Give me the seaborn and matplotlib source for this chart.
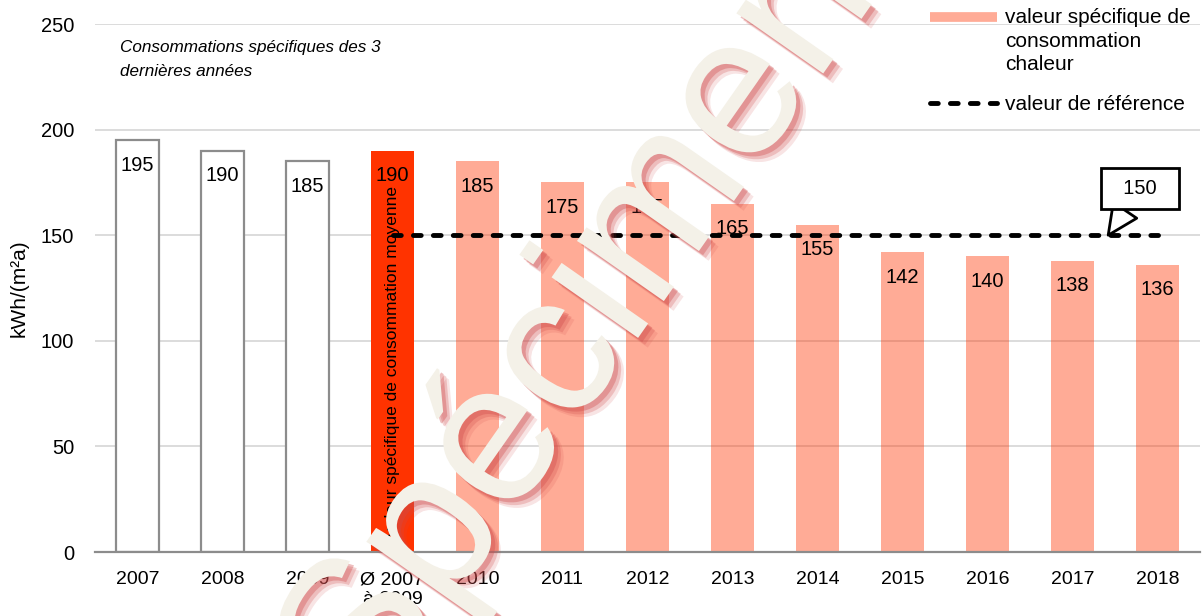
import pandas as pd
import matplotlib
matplotlib.use("Agg")
import matplotlib.pyplot as plt
import seaborn as sns
from matplotlib.lines import Line2D
from matplotlib import patheffects as pe

# data
categories = ["2007", "2008", "2009", "Ø 2007\nà 2009", "2010", "2011", "2012",
              "2013", "2014", "2015", "2016", "2017", "2018"]
values = [195, 190, 185, 190, 185, 175, 175, 165, 155, 142, 140, 138, 136]
groups = ["hist", "hist", "hist", "avg"] + ["annual"] * 9
ref_categories = categories[3:]
ref_values = [150] * len(ref_categories)
ref_callout = 150

df = pd.DataFrame({"cat": categories, "value": values, "group": groups})

sns.set_theme(style="white")
plt.rcParams["font.family"] = ["Liberation Sans", "DejaVu Sans"]
for k in ["text.color", "axes.labelcolor", "xtick.color", "ytick.color"]:
    plt.rcParams[k] = "black"

RED = "#FF3300"
GRID = "#d9d9d9"
AXC = "#8c8c8c"

fig = plt.figure(figsize=(12.04, 6.16), dpi=100)
ax = fig.add_axes([95 / 1204, 1 - 552 / 616, 1105 / 1204, 528 / 616])

sns.barplot(data=df, x="cat", y="value", hue="group", order=categories,
            palette={"hist": "white", "avg": RED, "annual": RED},
            dodge=False, width=0.5, saturation=1, legend=False, ax=ax, zorder=2)

for cont, grp in zip(ax.containers, ["hist", "avg", "annual"]):
    for bar in cont:
        if grp == "hist":
            bar.set_edgecolor(AXC)
            bar.set_linewidth(1.6)
        elif grp == "annual":
            bar.set_alpha(0.41)
            bar.set_linewidth(0)
        else:
            bar.set_linewidth(0)

# value labels just inside the top of each bar
for i, v in enumerate(values):
    ax.annotate(str(v), xy=(i, v), xytext=(0, -18), textcoords="offset points",
                ha="center", va="center", fontsize=14.5, zorder=5)

# reference line
ref_x = [categories.index(c) for c in ref_categories]
sns.lineplot(x=ref_x, y=ref_values, ax=ax, color="black", lw=3.5,
             linestyle=(0, (1.6, 2.5)), dash_capstyle="round", zorder=4)

# vertical text inside the average bar
ax.text(3, 90.5, "valeur spécifique de consommation moyenne", rotation=90,
        ha="center", va="center", fontsize=12.5, zorder=5)

ax.text(25 / 1105, (552 - 40) / 528, "Consommations spécifiques des 3\ndernières années",
        transform=ax.transAxes, ha="left", va="top", fontsize=12.3, style="italic",
        linespacing=1.75)

# callout for the reference value
ax.annotate(f"  {ref_callout}  ", xy=(11.42, ref_callout), xytext=(11.79, 172),
            ha="center", va="center", fontsize=14.5, zorder=6,
            bbox=dict(boxstyle="square,pad=0.55", fc="white", ec="black", lw=2),
            arrowprops=dict(arrowstyle="wedge,tail_width=1.4,shrink_factor=0.5",
                            fc="white", ec="black", lw=2, shrinkA=0, shrinkB=0))

# axes styling
ax.set_xlim(-0.5, 12.5)
ax.set_ylim(0, 250)
ax.set_yticks([0, 50, 100, 150, 200, 250])
ax.yaxis.grid(True, color=GRID, lw=1.3, zorder=0)
ax.set_axisbelow(True)
for s in ["top", "right", "left"]:
    ax.spines[s].set_visible(False)
ax.spines["bottom"].set_color(AXC)
ax.spines["bottom"].set_linewidth(1.6)
ax.spines["bottom"].set_zorder(3)

ax.set_xticks(range(len(categories)), labels=categories)
ax.set_xticks([i - 0.5 for i in range(len(categories) + 1)], minor=True)
ax.tick_params(axis="x", which="major", length=0, pad=14, labelsize=14)
ax.tick_params(axis="x", which="minor", length=6, width=1.6, color=AXC, direction="out")
ax.tick_params(axis="y", length=0, pad=15, labelsize=14.5)
ax.set_xlabel("")
ax.set_ylabel("kWh/(m²a)", fontsize=15)
ax.yaxis.set_label_coords(-66 / 1105, 0.5)

# legend (thin bar handle drawn as a thick line, lifted to the first text line)
handles = [Line2D([], [], color=RED, alpha=0.41, lw=7, solid_capstyle="butt"),
           Line2D([], [], color="black", lw=3.5, linestyle=(0, (1.6, 2.5)),
                  dash_capstyle="round")]
labels = ["valeur spécifique de\nconsommation\nchaleur", "valeur de référence"]
leg = fig.legend(handles, labels, loc="upper left", bbox_to_anchor=(928 / 1204, 1 - 6 / 616),
                 frameon=False, fontsize=15, handlelength=3.2, handletextpad=0.4,
                 labelspacing=1.0, borderpad=0.1, borderaxespad=0)
for t in leg.get_texts():
    t.set_linespacing(1.3)
bar_handle = leg.legend_handles[0]
bar_handle.set_ydata([y + 17.5 for y in bar_handle.get_ydata()])

# watermark
fig.text(624 / 1204, 1 - 358 / 616, "Spécimen", rotation=55, rotation_mode="anchor",
         ha="center", va="baseline", fontsize=144, color="#f4f1e8", zorder=10,
         path_effects=[pe.SimplePatchShadow(offset=(7, -7), shadow_rgbFace="#d04a4a", alpha=0.15),
                       pe.SimplePatchShadow(offset=(5, -5), shadow_rgbFace="#d04a4a", alpha=0.25),
                       pe.SimplePatchShadow(offset=(3, -3), shadow_rgbFace="#d04a4a", alpha=0.35),
                       pe.Normal()])

fig.savefig("out.png", dpi=100)
